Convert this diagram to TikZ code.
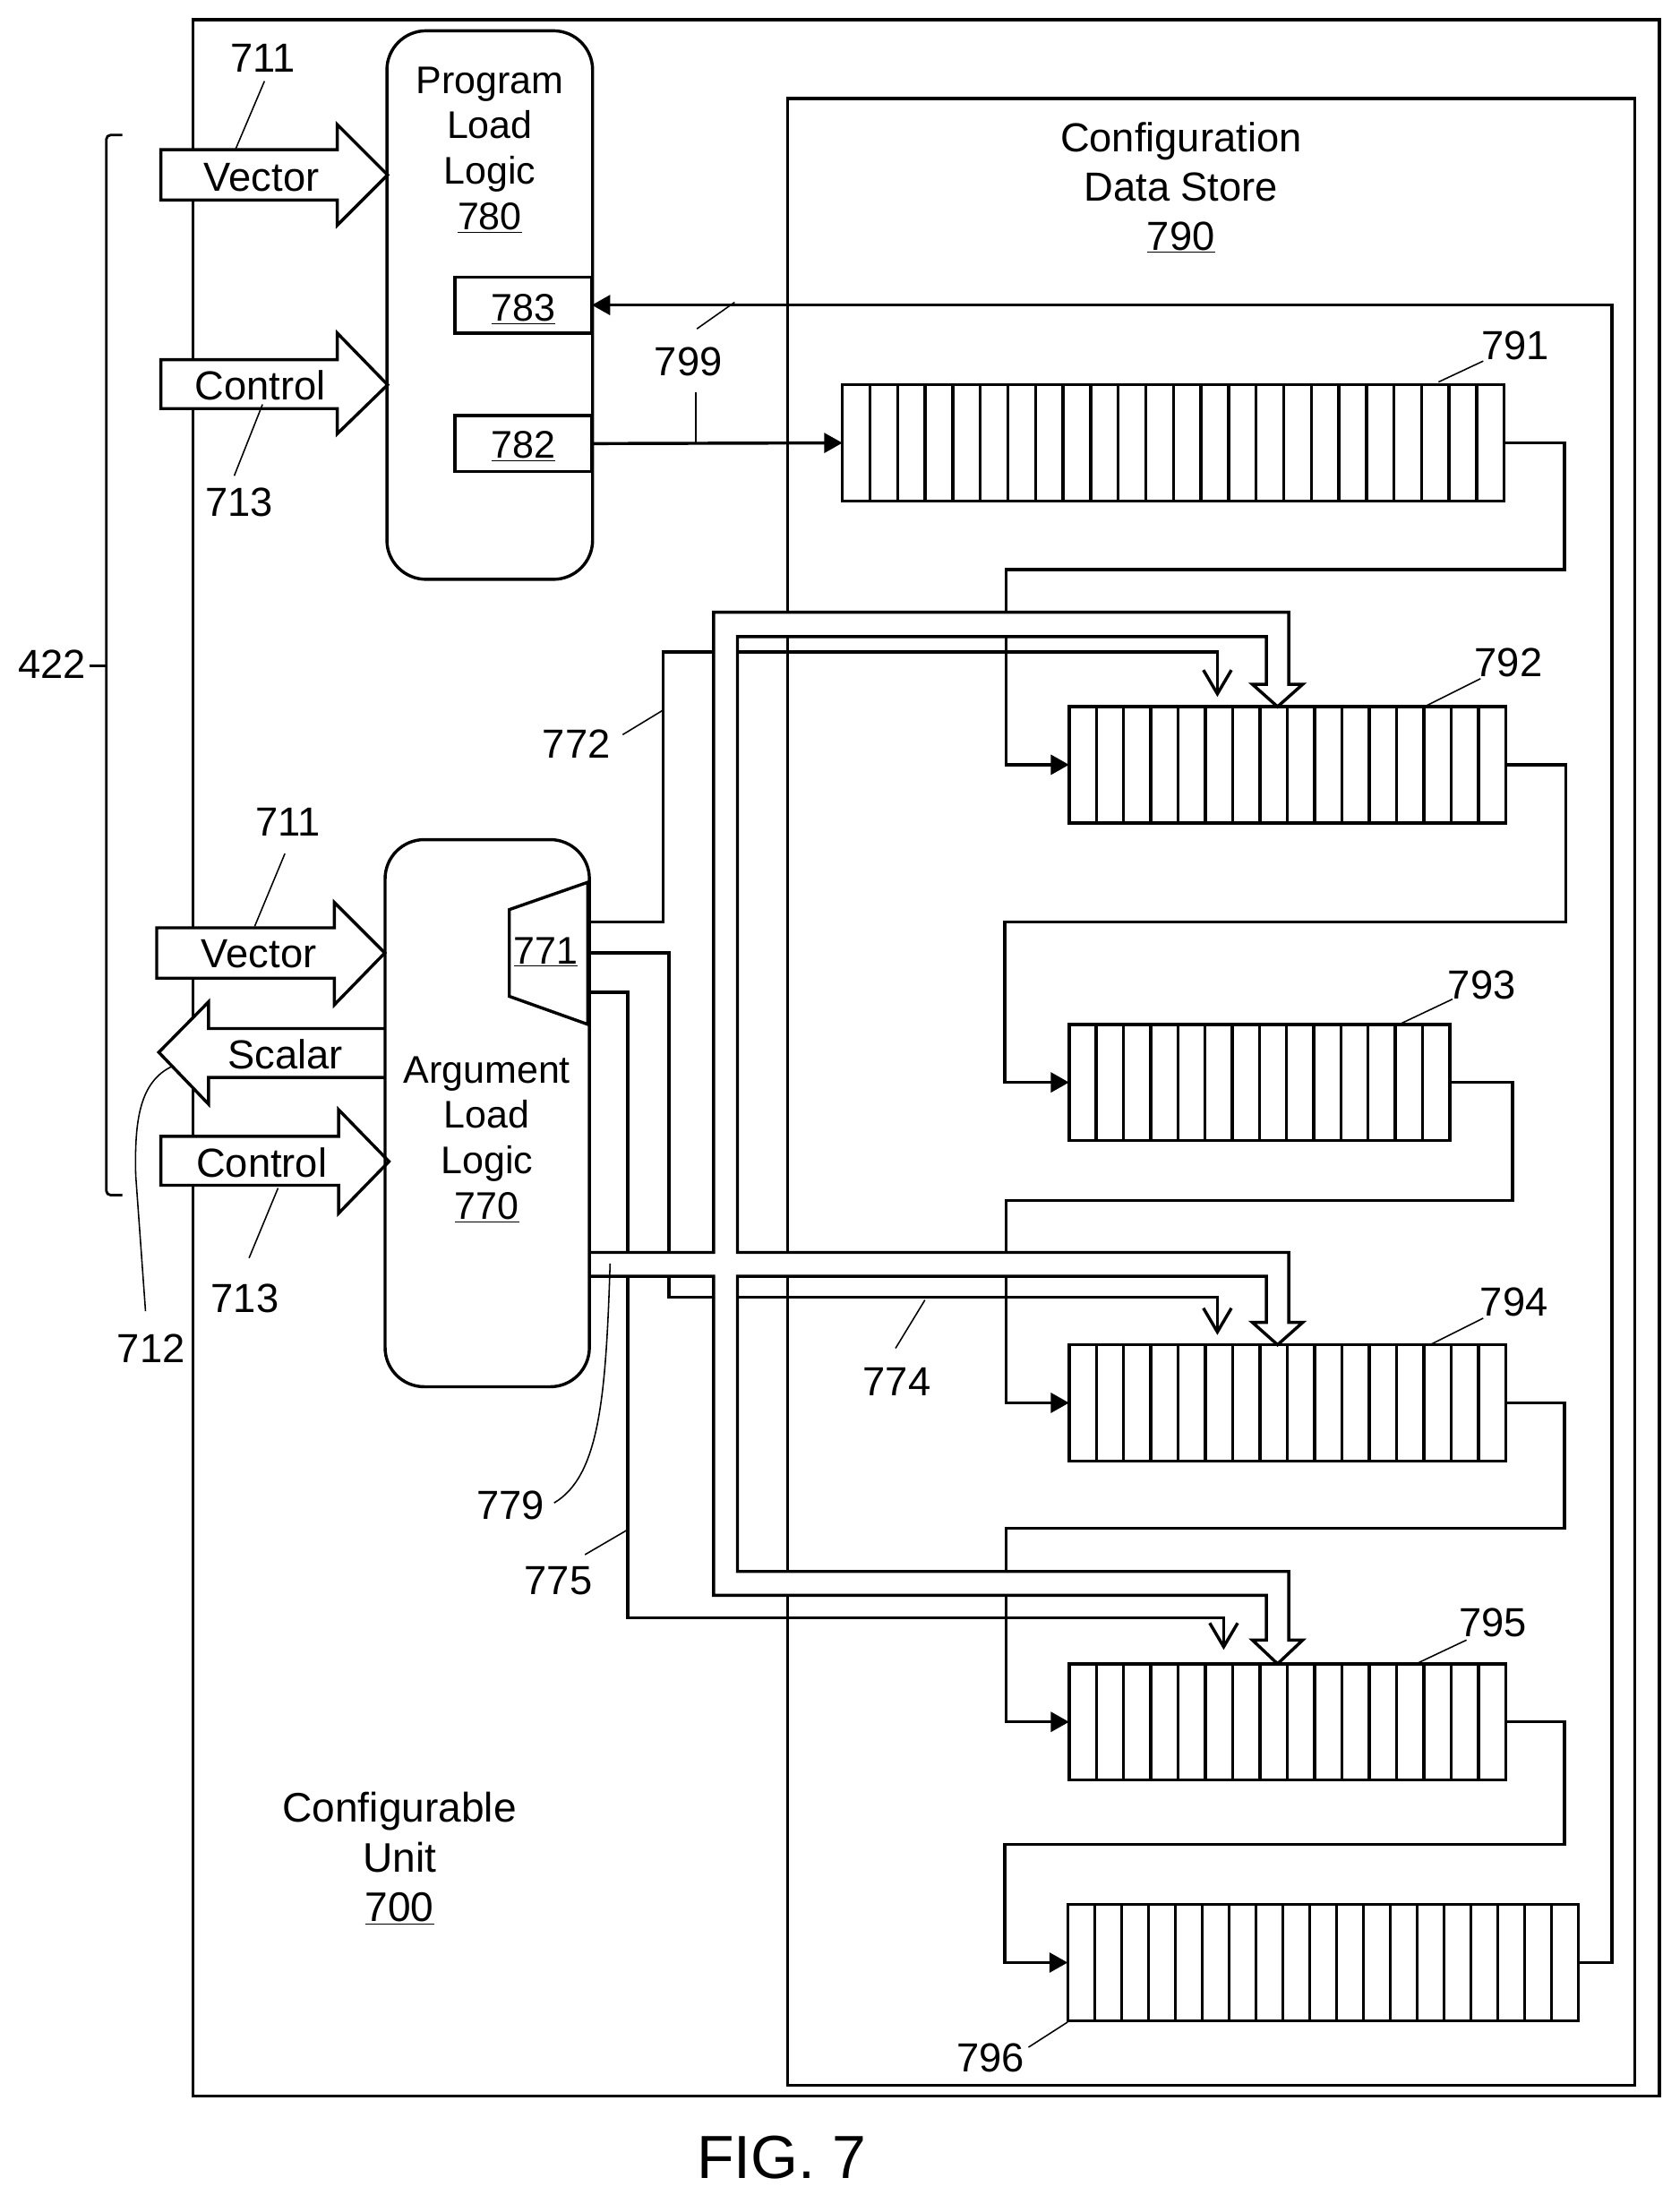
\documentclass[tikz,border=0pt]{standalone}
\usepackage{fontspec}
\setmainfont{Liberation Sans}
\usetikzlibrary{arrows.meta,calc}
\tikzset{
  boxline/.style={draw,line width=2.2pt,outer sep=0pt,inner sep=0pt},
  regbox/.style={boxline,minimum height=83pt},
  logicbox/.style={boxline,rounded corners=28pt},
  wire/.style={draw,line width=2.2pt},
  filltip/.style={wire,-{Triangle[length=13pt,width=14pt]}},
  opentip/.style={wire,-{Straight Barb[length=17pt,width=20pt,line width=2.2pt]}},
  busline/.style={draw,line width=2.2pt,fill=white},
  leader/.style={draw,line width=1pt},
  lbl/.style={inner sep=0pt,align=center,yshift=-0.7pt,font=\fontsize{29}{35}\selectfont},
  blocklbl/.style={lbl,font=\fontsize{27.5}{32.5}\selectfont}
}
\begin{document}
\begin{tikzpicture}[x=1pt,y=-1pt]
\useasboundingbox (0,0) rectangle (1200,1568.6);

% outer frames
\node[boxline,minimum width=1048pt,minimum height=1484pt] (unit) at (662,756) {};
\node[boxline,minimum width=605.5pt,minimum height=1420pt] (store) at (865.7,780.3) {};

% boxes in the load logic
\node[boxline,minimum width=98pt,minimum height=40pt] (box783) at (374,218) {};
\node[boxline,minimum width=98pt,minimum height=40pt] (box782) at (374,317) {};
\draw[wire] (364,650) -- (420,630.5) -- (420,732) -- (364,712) -- cycle;

% shift registers
\node[regbox,minimum width=473pt] (reg791) at (838.5,316.5) {};
\node[regbox,minimum width=312pt] (reg792) at (920,546.5) {};
\node[regbox,minimum width=272pt] (reg793) at (900,773.5) {};
\node[regbox,minimum width=312pt] (reg794) at (920,1002.5) {};
\node[regbox,minimum width=312pt] (reg795) at (920,1230.5) {};
\node[regbox,minimum width=365pt] (reg796) at (945.5,1402.5) {};
\foreach \reg/\n/\w in {reg791/23/19.71,reg792/15/19.5,reg793/13/19.43,reg794/15/19.5,reg795/15/19.5,reg796/18/19.21}
  \foreach \i in {1,...,\n}
    \draw[wire] ($(\reg.north west)+(\i*\w,0)$) -- ($(\reg.south west)+(\i*\w,0)$);

% register chain
\path[filltip] (box782.east) -- (reg791.west);
\path[filltip] (reg791.east) -- (1118,316.5) -- (1118,407) -- (719,407) -- (719,546.5) -- (reg792.west);
\path[filltip] (reg792.east) -- (1119,546.5) -- (1119,659) -- (718,659) -- (718,773.5) -- (reg793.west);
\path[filltip] (reg793.east) -- (1081,773.5) -- (1081,858) -- (719,858) -- (719,1002.5) -- (reg794.west);
\path[filltip] (reg794.east) -- (1118,1002.5) -- (1118,1092) -- (719,1092) -- (719,1230.5) -- (reg795.west);
\path[filltip] (reg795.east) -- (1118,1230.5) -- (1118,1318) -- (718,1318) -- (718,1402.5) -- (reg796.west);
\path[filltip] (reg796.east) -- (1152,1402.5) -- (1152,218) -- (box783.east);

% wires from 771
\coordinate (muxa) at (421,659);
\coordinate (muxb) at (421,681);
\coordinate (muxc) at (421,709);
\coordinate (in792) at (870,498);
\coordinate (in794) at (870,954);
\coordinate (in795) at (874.5,1179);
\path[opentip] (muxa) -- (474,659) -- (474,466) -- (870,466) -- (in792);
\path[opentip] (muxb) -- (478,681) -- (478,927) -- (870,927) -- (in794);
\path[opentip] (muxc) -- (448.5,709) -- (448.5,1156) -- (874.5,1156) -- (in795);

% bus 779
\path[busline] (421,895) -- (510,895) -- (510,437.5) -- (921,437.5) -- (921,489) -- (931,489) -- (913,505)
  -- (895,489) -- (905,489) -- (905,455) -- (527,455) -- (527,895) -- (921,895) -- (921,945) -- (931,945)
  -- (913,961) -- (895,945) -- (905,945) -- (905,912) -- (527,912) -- (527,1123) -- (921,1123) -- (921,1172)
  -- (931,1172) -- (913,1189) -- (895,1172) -- (905,1172) -- (905,1140) -- (510,1140) -- (510,912) -- (421,912);

% block arrows
\path[busline] (115,107) -- (241,107) -- (241,89) -- (277,125) -- (241,161) -- (241,143) -- (115,143) -- cycle;
\path[busline] (115,257) -- (241,257) -- (241,238) -- (277,275) -- (241,310) -- (241,292) -- (115,292) -- cycle;
\path[busline] (112,663) -- (239,663) -- (239,645) -- (275,681) -- (239,718) -- (239,699) -- (112,699) -- cycle;
\path[busline] (275,735) -- (149,735) -- (149,716) -- (113.5,752) -- (149,789) -- (149,770) -- (275,770);
\path[busline] (115,812) -- (242,812) -- (242,793) -- (278,830) -- (242,867) -- (242,847) -- (115,847) -- cycle;

% load logic blocks
\node[logicbox,minimum width=147pt,minimum height=392pt] (progload) at (350,218) {};
\node[logicbox,minimum width=146pt,minimum height=391pt] (argload) at (348.2,795.5) {};

% bracket 422
\coordinate (brtop) at (87.5,96.5);
\coordinate (brbot) at (87.5,854);
\coordinate (brtick) at (64,476);
\draw[line width=1.8pt,rounded corners=3pt] (brtop) -- (76,96.5) -- (76,854) -- (brbot);
\draw[line width=1.8pt] (brtick) -- (76,476);

% leader lines
\foreach \n/\ax/\ay/\bx/\by in {
    a/189/58/168.4/106.5, b/187.6/289/167.4/340, c/203.6/610/182/662, d/198.7/849/178/899,
    e/448/1093.5/418/1111, f/661/929/640/963.5, g/473/508/445/525, h/1028/273/1060/258,
    i/1018/505/1058/485, j/1000/732/1038/714, k/1022/961/1060/942, l/1012/1189/1048/1172,
    m/763/1445/735/1463, n/498/235/525/216, o/497.3/280/497.3/317} {
  \coordinate (lead\n a) at (\ax,\ay);
  \coordinate (lead\n b) at (\bx,\by);
  \path[leader] (lead\n a) -- (lead\n b);
}
\coordinate (curvea) at (123,762);
\coordinate (curveb) at (104,937);
\coordinate (curvec) at (436,903);
\coordinate (curved) at (396,1074);
\path[leader] (curvea) .. controls (100,773) and (96,800) .. (97,840) -- (curveb);
\path[leader] (curvec) .. controls (433,1000) and (428,1055) .. (curved);

% texts
\node[lbl,font=\fontsize{29.5}{35.5}\selectfont] (t700) at (285.5,1327.5) {Configurable\\Unit\\\underline{700}};
\node[lbl] (t790) at (844,133.5) {Configuration\\Data Store\\\underline{790}};
\node[blocklbl] (t780) at (350,106.3) {Program\\Load\\Logic\\\underline{780}};
\node[blocklbl] (t770) at (348,813.5) {Argument\\Load\\Logic\\\underline{770}};
\node[blocklbl] (t771) at (390,679.5) {\underline{771}};
\node[blocklbl] (t783) at (374,220.5) {\underline{783}};
\node[blocklbl] (t782) at (374,318.5) {\underline{782}};
\node[lbl] (tvec1) at (187,126) {Vector};
\node[lbl] (tctl1) at (186,275) {Control};
\node[lbl] (tvec2) at (185,681) {Vector};
\node[lbl] (tsca) at (204,753) {Scalar};
\node[lbl] (tctl2) at (187,830) {Control};
\node[lbl] (t711a) at (188,41) {711};
\node[lbl] (t713a) at (171,358) {713};
\node[lbl] (t711b) at (206,587) {711};
\node[lbl] (t713b) at (175,927) {713};
\node[lbl] (t712) at (108,963) {712};
\node[lbl] (t422) at (37,474) {422};
\node[lbl] (t799) at (492,258) {799};
\node[lbl] (t772) at (412,531) {772};
\node[lbl] (t774) at (641,987) {774};
\node[lbl] (t779) at (365,1075) {779};
\node[lbl] (t775) at (399,1129) {775};
\node[lbl] (t791) at (1083,246) {791};
\node[lbl] (t792) at (1078,473) {792};
\node[lbl] (t793) at (1059,703) {793};
\node[lbl] (t794) at (1082,930) {794};
\node[lbl] (t795) at (1067,1159) {795};
\node[lbl] (t796) at (708,1470) {796};
\node[lbl,font=\fontsize{43.5}{50}\selectfont] (tfig) at (558.5,1541) {FIG. 7};
\end{tikzpicture}
\end{document}
